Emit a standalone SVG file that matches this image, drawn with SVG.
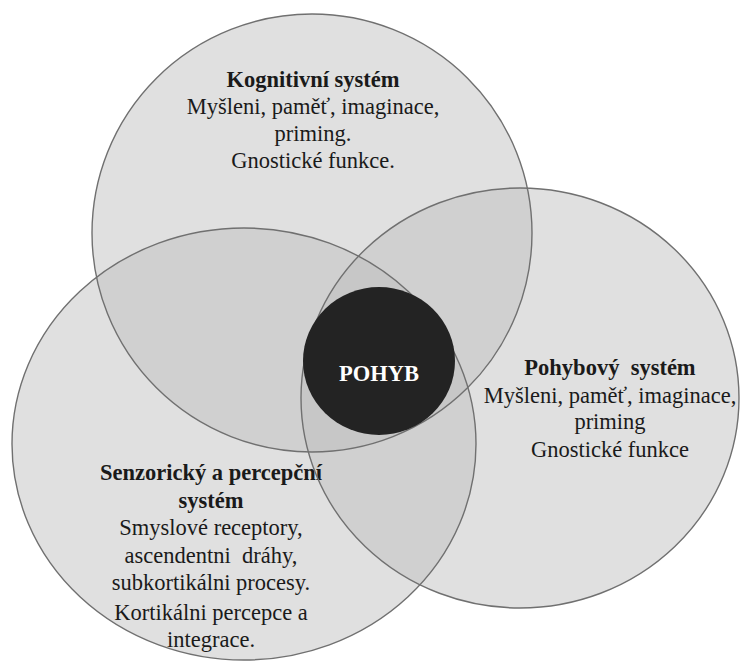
<svg xmlns="http://www.w3.org/2000/svg" width="741" height="664" viewBox="0 0 741 664">
<style>
.fillc { fill:#bfbfbf; fill-opacity:0.48; stroke:none; }
.outl { fill:none; stroke:#707070; stroke-width:1.4; }
text { font-family:'Liberation Serif','Times New Roman',serif; font-size:22.5px; fill:#1a1a1a; text-anchor:middle; }
.b { font-weight:bold; }
.w { fill:#ffffff; }
</style>
<rect width="741" height="664" fill="#ffffff"/>
<g id="kognitivni">
  <ellipse class="fillc" cx="312" cy="233" rx="220" ry="219"/>
  <text class="b" x="313" y="87">Kognitivní systém</text>
  <text x="313" y="114">Myšleni, paměť, imaginace,</text>
  <text x="313" y="141">priming.</text>
  <text x="313" y="168">Gnostické funkce.</text>
</g>
<g id="pohybovy">
  <ellipse class="fillc" cx="520" cy="398" rx="219" ry="210"/>
  <text class="b" x="610" y="375" xml:space="preserve">Pohybový  systém</text>
  <text x="610" y="403">Myšleni, paměť, imaginace,</text>
  <text x="610" y="429">priming</text>
  <text x="610" y="457">Gnostické funkce</text>
</g>
<g id="senzoricky">
  <ellipse class="fillc" cx="244" cy="444" rx="232" ry="216"/>
  <text class="b" x="211" y="480">Senzorický a percepční</text>
  <text class="b" x="211" y="508">systém</text>
  <text x="211" y="535">Smyslové receptory,</text>
  <text x="211" y="563" xml:space="preserve">ascendentni  dráhy,</text>
  <text x="211" y="590">subkortikálni procesy.</text>
  <text x="211" y="620">Kortikálni percepce a</text>
  <text x="211" y="647">integrace.</text>
</g>
<g id="connectors">
  <ellipse class="outl" cx="312" cy="233" rx="220" ry="219"/>
  <ellipse class="outl" cx="520" cy="398" rx="219" ry="210"/>
  <ellipse class="outl" cx="244" cy="444" rx="232" ry="216"/>
</g>
<g id="pohyb">
  <ellipse cx="379" cy="361" rx="76" ry="74" fill="#232323"/>
  <text class="b w" x="379" y="381">POHYB</text>
</g>
</svg>
